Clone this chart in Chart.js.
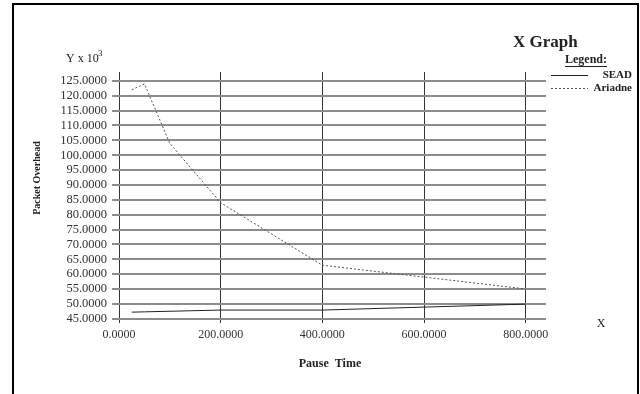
<!DOCTYPE html>
<html>
<head>
<meta charset="utf-8">
<script src="https://cdn.jsdelivr.net/npm/chart.js@4/dist/chart.umd.min.js"></script>
<style>
  html, body { margin: 0; padding: 0; background: #fff; overflow: hidden; }
  #wrap { position: relative; width: 640px; height: 394px; }
  #frame {
    position: absolute; left: 12px; top: 3px; width: 623px; height: 400px;
    border: 2px solid #000; border-bottom: none;
  }
  canvas { position: absolute; left: 0; top: 0; }
</style>
</head>
<body>
<div id="wrap">
  <div id="frame"></div>
  <canvas id="chart" width="640" height="394"></canvas>
</div>
<script>
// --- data ---
const pauseTimes = [25, 50, 100, 200, 400, 600, 800];
const sead = [47.2, 47.3, 47.5, 47.9, 47.9, 48.9, 49.9];
const ariadne = [122, 124, 104, 84, 63, 59, 55];
const xTicks = [0, 200, 400, 600, 800];
const yTicks = [45, 50, 55, 60, 65, 70, 75, 80, 85, 90, 95, 100, 105, 110, 115, 120, 125];

const serif = "'Liberation Serif', 'Times New Roman', serif";

// texts around the plot + the legend box on the right
const extras = {
    id: "extras",
    afterDraw(chart) {
        const c = chart.ctx;
        c.save();
        c.fillStyle = "#222";
        c.textBaseline = "middle";

        c.font = "bold 17px " + serif;
        c.textAlign = "left";
        c.fillText("X Graph", 513, 43);

        c.font = "bold 12px " + serif;
        c.fillText("Legend:", 565, 60);
        const lw = c.measureText("Legend:").width;
        c.fillRect(565, 66, lw, 1);

        c.font = "bold 11px " + serif;
        c.textAlign = "right";
        chart.data.datasets.forEach((ds, i) => {
            const y = 75 + i * 13;
            c.strokeStyle = ds.borderColor;
            c.lineWidth = 1;
            c.setLineDash(ds.borderDash || []);
            c.beginPath();
            c.moveTo(551, y + 0.5);
            c.lineTo(588, y + 0.5);
            c.stroke();
            c.fillText(ds.label, 632, y);
        });
        c.setLineDash([]);

        c.textAlign = "left";
        c.font = "12px " + serif;
        c.fillText("Y x 10", 66, 59);
        c.font = "9px " + serif;
        c.fillText("3", 98, 54);

        c.font = "12px " + serif;
        c.textAlign = "center";
        c.fillText("X", 601, 324);

        c.font = "bold 12px " + serif;
        c.fillText("Pause  Time", 330, 364);

        c.translate(37, 178);
        c.rotate(-Math.PI / 2);
        c.font = "bold 10px " + serif;
        c.fillText("Packet Overhead", 0, 0);
        c.restore();
    },
};

const ctx = document.getElementById("chart").getContext("2d");

const chart = new Chart(ctx, {
    type: "line",
    data: {
        datasets: [
            {
                label: "SEAD",
                data: pauseTimes.map((x, i) => ({ x: x, y: sead[i] })),
                borderColor: "#222",
                borderWidth: 1,
            },
            {
                label: "Ariadne",
                data: pauseTimes.map((x, i) => ({ x: x, y: ariadne[i] })),
                borderColor: "#555",
                borderWidth: 1,
                borderDash: [2, 2],
            },
        ],
    },
    options: {
        responsive: false,
        animation: false,
        devicePixelRatio: 1,
        layout: { padding: { top: 72, right: 94, bottom: 0, left: 0 } },
        elements: { point: { radius: 0 }, line: { tension: 0 } },
        plugins: {
            legend: { display: false },
            title: { display: false },
            tooltip: { enabled: false },
        },
        scales: {
            x: {
                type: "linear",
                min: 0,
                max: 840,
                afterBuildTicks: (axis) => { axis.ticks = xTicks.map((v) => ({ value: v })); },
                afterFit: (axis) => { axis.height = 71; },
                grid: { color: "#333", lineWidth: 1, drawTicks: false },
                border: { display: false },
                ticks: {
                    autoSkip: false,
                    maxRotation: 0,
                    padding: 5,
                    color: "#333",
                    font: { family: serif, size: 12 },
                    callback: (v) => Number(v).toFixed(4),
                },
            },
            y: {
                type: "linear",
                min: 43.55,
                max: 128,
                afterBuildTicks: (axis) => { axis.ticks = yTicks.map((v) => ({ value: v })); },
                afterFit: (axis) => { axis.width = 119; },
                grid: { color: "#8c8c8c", lineWidth: 2, tickLength: 7 },
                border: { display: false },
                ticks: {
                    autoSkip: false,
                    padding: 5,
                    color: "#333",
                    font: { family: serif, size: 12.5 },
                    callback: (v) => Number(v).toFixed(4),
                },
            },
        },
    },
    plugins: [extras],
});
</script>
</body>
</html>
